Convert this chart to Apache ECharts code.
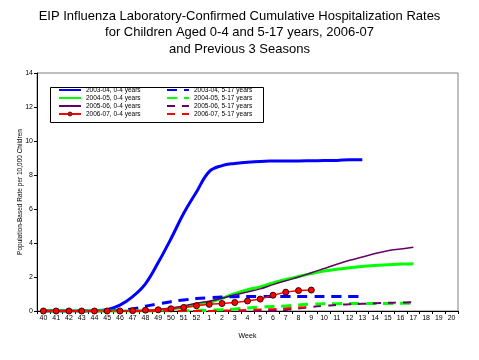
<!DOCTYPE html>
<html>
<head>
<meta charset="utf-8">
<script src="https://cdn.jsdelivr.net/npm/echarts@6/dist/echarts.min.js"></script>
<style>html,body{margin:0;padding:0;background:#fff;}#c{width:479px;height:360px;}</style>
</head>
<body>
<div id="c"></div>
<script>
var weeks = ['40','41','42','43','44','45','46','47','48','49','50','51','52','1','2','3','4','5','6','7','8','9','10','11','12','13','14','15','16','17','18','19','20'];
var yTicks = [0, 2, 4, 6, 8, 10, 12, 14];
var seriesNames = ['2003-04, 0-4 years','2004-05, 0-4 years','2005-06, 0-4 years','2006-07, 0-4 years',
                   '2003-04, 5-17 years','2004-05, 5-17 years','2005-06, 5-17 years','2006-07, 5-17 years'];
// 0-4 years
var s0304_04 = [0,0,0,0,0.02,0.08,0.35,0.85,1.6,2.85,4.25,5.75,7.0,8.2,8.55,8.68,8.75,8.8,8.82,8.83,8.83,8.84,8.85,8.86,8.9,8.9];
var s0405_04 = [0,0,0,0,0,0,0,0,0.01,0.05,0.12,0.23,0.35,0.5,0.75,1.02,1.25,1.42,1.65,1.85,2.03,2.2,2.35,2.45,2.55,2.62,2.68,2.72,2.76,2.78];
var s0506_04 = [0,0,0,0,0,0,0,0,0.02,0.08,0.18,0.3,0.45,0.58,0.75,0.95,1.12,1.3,1.55,1.78,2.0,2.25,2.5,2.75,2.98,3.18,3.38,3.55,3.65,3.75];
var s0607_04 = [0,0,0,0,0,0,0,0.02,0.05,0.07,0.13,0.21,0.31,0.39,0.44,0.5,0.59,0.7,0.93,1.11,1.2,1.23];
// 5-17 years
var s0304_517 = [0,0,0,0,0,0.02,0.05,0.12,0.28,0.42,0.55,0.65,0.73,0.78,0.82,0.84,0.85,0.85,0.85,0.85,0.85,0.86,0.86,0.86,0.86,0.86];
var s0405_517 = [0,0,0,0,0,0,0,0,0,0,0,0.01,0.02,0.04,0.08,0.12,0.18,0.23,0.27,0.3,0.36,0.4,0.42,0.43,0.44,0.44,0.44,0.44,0.45,0.46];
var s0506_517 = [0,0,0,0,0,0,0,0,0,0,0,0,0,0,0,0,0,0,0.02,0.06,0.15,0.24,0.3,0.35,0.4,0.42,0.45,0.48,0.5,0.52];
var s0607_517 = [0,0,0,0,0,0,0,0,0,0,0,0,0,0,0.02,0.04,0.06,0.09,0.11,0.15,0.2,0.22];

var blue = '#0000FF', green = '#00FF00', purple = '#660066', red = '#FF0000';
var FONT = 'Liberation Sans, Arial, sans-serif';
var chart = echarts.init(document.getElementById('c'), null, {renderer: 'canvas'});
var tinyFont = {fontFamily: FONT, fontSize: 6.5, color: '#000', lineHeight: 8};
function mk(name, data, color, width, type, smooth, marker) {
  return {
    name: name, type: 'line', data: data, smooth: smooth,
    symbol: marker ? 'circle' : 'none', symbolSize: 6, showSymbol: !!marker,
    itemStyle: marker ? {color: red, borderColor: '#400000', borderWidth: 1} : {color: color},
    lineStyle: {color: color, width: width, type: type},
    color: color, animation: false, z: marker ? 5 : 3
  };
}
function legItem(name, marker) {
  return marker ? {name: name, itemStyle: {borderWidth: 0.8}} : {name: name, itemStyle: {opacity: 0, borderWidth: 0}};
}
chart.setOption({
  animation: false,
  backgroundColor: '#fff',
  title: {
    text: 'EIP Influenza Laboratory-Confirmed Cumulative Hospitalization Rates\nfor Children Aged 0-4 and 5-17 years, 2006-07\nand Previous 3 Seasons',
    left: 'center', top: 3,
    textStyle: {fontFamily: FONT, fontSize: 13, fontWeight: 'normal', color: '#000', lineHeight: 16.5, align: 'center'}
  },
  grid: {left: 37, right: 21, top: 73, bottom: 49, show: true, borderColor: '#808080', borderWidth: 1},
  xAxis: {
    type: 'category', data: weeks, boundaryGap: true,
    name: 'Week', nameLocation: 'middle', nameGap: 22, nameMoveOverlap: false,
    nameTextStyle: {fontFamily: FONT, fontSize: 7, color: '#000'},
    axisLine: {lineStyle: {color: '#000', width: 1}},
    axisTick: {show: true, inside: false, length: 3, alignWithLabel: false, lineStyle: {color: '#000'}},
    axisLabel: {interval: 0, fontFamily: FONT, fontSize: 7, color: '#000', margin: 4},
    splitLine: {show: false}
  },
  yAxis: {
    type: 'value', min: yTicks[0], max: yTicks[yTicks.length-1], interval: 2,
    name: 'Population-Based Rate per 10,000 Children', nameLocation: 'middle', nameGap: 13, nameMoveOverlap: false,
    nameTextStyle: {fontFamily: FONT, fontSize: 6.5, color: '#000'},
    axisLine: {show: true, lineStyle: {color: '#000', width: 1}},
    axisTick: {show: true, length: 3, lineStyle: {color: '#000'}},
    axisLabel: {fontFamily: FONT, fontSize: 7, color: '#000', margin: 4},
    splitLine: {show: false}
  },
  legend: [
    {data: [legItem(seriesNames[0]), legItem(seriesNames[1]), legItem(seriesNames[2]), legItem(seriesNames[3], true)],
     orient: 'vertical', left: 58, top: 86, itemWidth: 22, itemHeight: 5, itemGap: 0,
     textStyle: tinyFont, padding: 0},
    {data: [legItem(seriesNames[4]), legItem(seriesNames[5]), legItem(seriesNames[6]), legItem(seriesNames[7])],
     orient: 'vertical', left: 166, top: 86, itemWidth: 22, itemHeight: 5, itemGap: 0,
     textStyle: tinyFont, padding: 0}
  ],
  graphic: [{type: 'rect', left: 48, top: 85, shape: {width: 213, height: 35}, style: {fill: 'none', stroke: '#000', lineWidth: 1}, z: 100}],
  series: [
    mk(seriesNames[0], s0304_04, blue, 3, 'solid', 0.4, false),
    mk(seriesNames[1], s0405_04, green, 3, 'solid', 0.4, false),
    mk(seriesNames[2], s0506_04, purple, 1.5, 'solid', 0.4, false),
    mk(seriesNames[3], s0607_04, red, 1.5, 'solid', false, true),
    mk(seriesNames[4], s0304_517, blue, 3, [10, 7], 0.4, false),
    mk(seriesNames[5], s0405_517, green, 3, [10, 7], 0.4, false),
    mk(seriesNames[6], s0506_517, purple, 2, [8, 7], 0.4, false),
    mk(seriesNames[7], s0607_517, red, 2, [8, 7], 0.4, false)
  ]
});
</script>
</body>
</html>
